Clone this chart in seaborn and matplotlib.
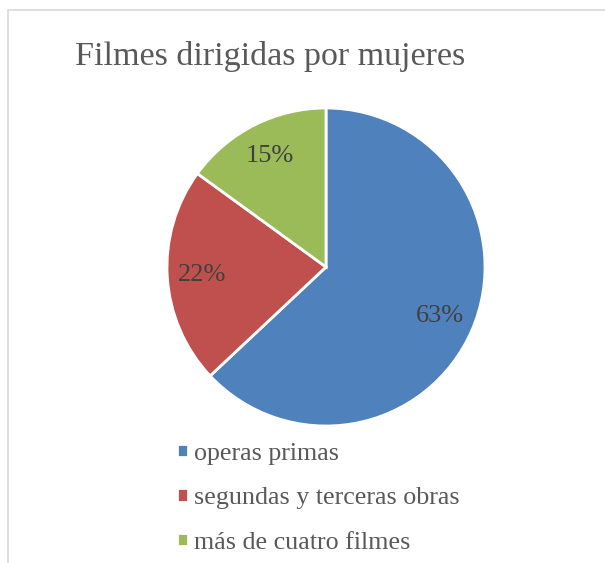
import matplotlib
matplotlib.use("Agg")
import matplotlib.pyplot as plt
from matplotlib.patches import Rectangle
import seaborn as sns

# data
categories = ["operas primas", "segundas y terceras obras", "más de cuatro filmes"]
shares = [63, 22, 15]
colors = ["#4F81BD", "#C0504D", "#9BBB59"]
title = "Filmes dirigidas por mujeres"

sns.set_theme(style="white")
plt.rcParams["font.family"] = ["Liberation Serif", "DejaVu Serif"]

W, H = 605, 563
fig = plt.figure(figsize=(W / 100, H / 100), dpi=100)

# pie centre (326, 267) px, radius 159 px
cx, cy, r = 326, 267, 159
ax = fig.add_axes([(cx - r) / W, 1 - (cy + r) / H, 2 * r / W, 2 * r / H])

wedges, texts, pcts = ax.pie(
    shares, colors=colors, startangle=90, counterclock=False,
    autopct="%1.0f%%", pctdistance=0.78,
    wedgeprops=dict(edgecolor="white", linewidth=2),
    textprops=dict(color="#404040", fontsize=19),
)
ax.set_xlim(-1, 1)
ax.set_ylim(-1, 1)
ax.axis("off")

fig.text(270 / W, 1 - 57 / H, title, ha="center", va="center",
         fontsize=24.5, color="#595959")

leg = fig.legend(wedges, categories, loc="upper left",
                 bbox_to_anchor=(177 / W, 1 - 443 / H), frameon=False,
                 borderpad=0, borderaxespad=0,
                 fontsize=18.7, handlelength=0.42, handleheight=0.42,
                 handletextpad=0.25, labelspacing=0.86)
for t in leg.get_texts():
    t.set_color("#595959")

# outer chart frame (cut off at right and bottom like the screenshot)
fig.patches.append(Rectangle((8 / W, -0.1), 1.2, 1 - 10 / H + 0.1,
                             transform=fig.transFigure, fill=False,
                             edgecolor="#D9D9D9", linewidth=1.2))

fig.savefig("out.png", dpi=100)
